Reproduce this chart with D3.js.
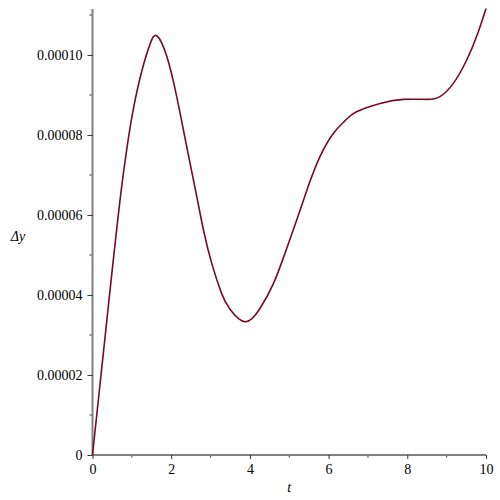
<!DOCTYPE html>
<html>
<head>
<meta charset="utf-8">
<script src="https://cdn.jsdelivr.net/npm/d3@7"></script>
<style>
  body { margin: 0; background: #fff; }
  svg { display: block; }
  svg text { font-family: "Times New Roman", "Liberation Serif", serif; }
</style>
</head>
<body>
<script>
// values (dy in units of 1e-6)
const tValues  = [0, 0.2, 0.4, 0.54, 0.71, 0.88, 1.05, 1.26, 1.47, 1.64, 1.89, 2.14, 2.31, 2.48, 2.65, 2.82,
                  3.03, 3.28, 3.49, 3.88, 4.26, 4.60, 4.89, 5.19, 5.48, 5.78, 6.12, 6.42, 6.71, 7.31, 7.90,
                  8.49, 8.83, 9.17, 9.51, 9.76, 10.0];
const dyValues = [0, 18.5, 37, 49.8, 64.6, 77.1, 87.1, 96.25, 102.9, 104.75, 99.6, 89.6, 81.25, 72.9, 64.6, 56.25,
                  47.9, 40.4, 36.5, 33.3, 36.7, 42.9, 50.4, 58.75, 67.1, 74.6, 80.4, 83.6, 85.8, 87.9, 88.9,
                  88.9, 89.6, 92.9, 98.75, 104.6, 111.6];
const xTicks = [0, 2, 4, 6, 8, 10];
const yTicks = [0, 0.00002, 0.00004, 0.00006, 0.00008, 0.00010];
const xLabel = "t";
const yLabel = "\u0394y";

const width = 500, height = 500;
const margin = { left: 92.5, right: 14, top: 9, bottom: 45 };

const data = tValues.map((t, i) => ({ t: t, dy: dyValues[i] * 1e-6 }));

const svg = d3.select("body").append("svg")
  .attr("width", width)
  .attr("height", height);

const x = d3.scaleLinear().domain([0, 10]).range([margin.left, width - margin.right]);
const y = d3.scaleLinear().domain([0, 0.0001115]).range([height - margin.bottom, margin.top]);

const axisColor = "#808080";

// minor ticks
const xMinor = d3.range(1, 10, 2);
const yMinor = d3.range(0.00001, 0.000111, 0.00002);

svg.append("g")
  .selectAll("line")
  .data(xMinor)
  .join("line")
  .attr("x1", d => x(d)).attr("x2", d => x(d))
  .attr("y1", y(0) - 1).attr("y2", y(0) + 2.5)
  .attr("stroke", "#333").attr("stroke-width", 1);

svg.append("g")
  .selectAll("line")
  .data(yMinor)
  .join("line")
  .attr("x1", x(0) - 3).attr("x2", x(0))
  .attr("y1", d => y(d)).attr("y2", d => y(d))
  .attr("stroke", "#333").attr("stroke-width", 1);

// x axis
const xAxis = svg.append("g")
  .attr("transform", `translate(0,${y(0)})`)
  .call(d3.axisBottom(x).tickValues(xTicks).tickSize(4).tickPadding(5).tickFormat(d3.format("d")));

// y axis
const yAxis = svg.append("g")
  .attr("transform", `translate(${x(0)},0)`)
  .call(d3.axisLeft(y).tickValues(yTicks).tickSize(5).tickPadding(5)
    .tickFormat(d => d === 0 ? "0" : d3.format(".5f")(d)));

[xAxis, yAxis].forEach(g => {
  g.attr("font-family", null).attr("font-size", 14);
  g.select(".domain").attr("stroke", axisColor).attr("stroke-width", 2);
  g.selectAll(".tick line").attr("stroke", "#333").attr("stroke-width", 1);
  g.selectAll(".tick text").attr("fill", "#000");
});
xAxis.select(".domain").attr("d", `M${x(0)},0H${x(10)}`);
yAxis.select(".domain").attr("d", `M0,${y(0)}V${margin.top}`);

// curve
const line = d3.line()
  .x(d => x(d.t))
  .y(d => y(d.dy))
  .curve(d3.curveNatural);

svg.append("path")
  .datum(data)
  .attr("fill", "none")
  .attr("stroke", "#7a0a22")
  .attr("stroke-width", 1.6)
  .attr("d", line);

// axis labels
svg.append("text")
  .attr("x", (x(0) + x(10)) / 2)
  .attr("y", 492)
  .attr("text-anchor", "middle")
  .attr("font-style", "italic")
  .attr("font-size", 14)
  .text(xLabel);

svg.append("text")
  .attr("x", 18)
  .attr("y", 241)
  .attr("text-anchor", "middle")
  .attr("font-style", "italic")
  .attr("font-size", 14)
  .text(yLabel);
</script>
</body>
</html>
